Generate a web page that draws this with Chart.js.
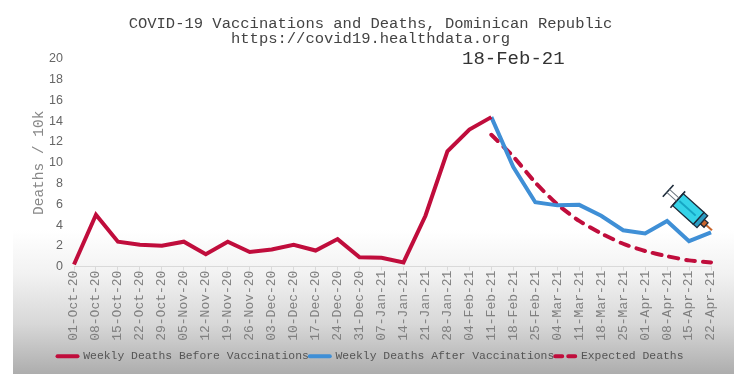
<!DOCTYPE html>
<html>
<head>
<meta charset="utf-8">
<script src="https://cdn.jsdelivr.net/npm/chart.js@4"></script>
<style>
  html, body { margin: 0; padding: 0; background: #fff; }
  #wrap { position: relative; width: 740px; height: 383px; overflow: hidden; }
  #shade {
    position: absolute; left: 13px; top: 230px; width: 721px; height: 144px;
    background: linear-gradient(to bottom, #fff 0%, #f2f2f2 30%, #d8d8d8 65%, #adadad 100%);
  }
  canvas { position: absolute; left: 0; top: 0; }
</style>
</head>
<body>
<div id="wrap">
  <div id="shade"></div>
  <canvas id="chart" width="740" height="383"></canvas>
</div>
<script>
const weeks = [
  "01-Oct-20", "08-Oct-20", "15-Oct-20", "22-Oct-20", "29-Oct-20",
  "05-Nov-20", "12-Nov-20", "19-Nov-20", "26-Nov-20",
  "03-Dec-20", "10-Dec-20", "17-Dec-20", "24-Dec-20", "31-Dec-20",
  "07-Jan-21", "14-Jan-21", "21-Jan-21", "28-Jan-21",
  "04-Feb-21", "11-Feb-21", "18-Feb-21", "25-Feb-21",
  "04-Mar-21", "11-Mar-21", "18-Mar-21", "25-Mar-21",
  "01-Apr-21", "08-Apr-21", "15-Apr-21", "22-Apr-21",
];
const N = null;
const deathsBefore = [
  0.2, 5.0, 2.4, 2.1, 2.0, 2.4, 1.2, 2.4, 1.4, 1.65,
  2.1, 1.55, 2.65, 0.9, 0.85, 0.4, 4.9, 11.1, 13.2, 14.4,
  N, N, N, N, N, N, N, N, N, N,
];
const deathsAfter = [
  N, N, N, N, N, N, N, N, N, N,
  N, N, N, N, N, N, N, N, N, 14.4,
  9.6, 6.2, 5.9, 5.95, 4.9, 3.5, 3.2, 4.4, 2.45, 3.3,
];
const deathsExpected = [
  N, N, N, N, N, N, N, N, N, N,
  N, N, N, N, N, N, N, N, N, 12.7,
  10.6, 8.1, 6.0, 4.4, 3.2, 2.2, 1.5, 1.0, 0.6, 0.4,
];
const vaccinationDate = "18-Feb-21";

const mono = "'Liberation Mono', monospace";

// date label over the plot and the syringe at the end of the line
const extras = {
  id: "extras",
  afterDatasetsDraw(chart) {
    const { ctx, scales } = chart;
    ctx.save();
    ctx.fillStyle = "#333";
    ctx.font = "19px " + mono;
    ctx.textAlign = "center";
    ctx.textBaseline = "middle";
    ctx.fillText(vaccinationDate, scales.x.getPixelForValue(weeks.indexOf(vaccinationDate)), scales.y.getPixelForValue(20));
    ctx.restore();

    ctx.save();
    ctx.translate(scales.x.getPixelForValue(weeks.length - 1) + 1, scales.y.getPixelForValue(3.3) - 2);
    ctx.rotate((42 * Math.PI) / 180);
    ctx.lineWidth = 1.3;
    ctx.strokeStyle = "#1d2b3a";
    // needle and hub
    ctx.fillStyle = "#c8642c";
    ctx.fillRect(-8, -1, 8, 2);
    ctx.fillRect(-13, -3, 5, 6);
    ctx.strokeRect(-13, -3, 5, 6);
    ctx.fillStyle = "#2b9cc4";
    ctx.fillRect(-18, -8, 5, 16);
    ctx.strokeRect(-18, -8, 5, 16);
    // barrel
    ctx.fillStyle = "#35d3e8";
    ctx.fillRect(-46, -8, 28, 16);
    ctx.strokeRect(-46, -8, 28, 16);
    ctx.fillStyle = "#16a5c4";
    ctx.fillRect(-44, -1, 22, 2);
    // flange, rod, thumb rest
    ctx.lineWidth = 1.6;
    ctx.beginPath();
    ctx.moveTo(-46, -11); ctx.lineTo(-46, 11);
    ctx.moveTo(-59, -8); ctx.lineTo(-59, 8);
    ctx.stroke();
    ctx.lineWidth = 1;
    ctx.strokeStyle = "#6d7780";
    ctx.beginPath();
    ctx.moveTo(-59, -2); ctx.lineTo(-46, -2);
    ctx.moveTo(-59, 2); ctx.lineTo(-46, 2);
    ctx.stroke();
    ctx.restore();
  },
};

new Chart(document.getElementById("chart"), {
  type: "line",
  data: {
    labels: weeks,
    datasets: [
      {
        label: "Weekly Deaths Before Vaccinations",
        data: deathsBefore,
        borderColor: "#c00d3c",
        backgroundColor: "#c00d3c",
        borderWidth: 4,
        pointRadius: 0,
        tension: 0,
      },
      {
        label: "Weekly Deaths After Vaccinations",
        data: deathsAfter,
        borderColor: "#3f8fd6",
        backgroundColor: "#3f8fd6",
        borderWidth: 4,
        pointRadius: 0,
        tension: 0,
      },
      {
        label: "Expected Deaths",
        data: deathsExpected,
        borderColor: "#c00d3c",
        backgroundColor: "#c00d3c",
        borderWidth: 4,
        borderDash: [9, 8],
        borderCapStyle: "round",
        pointRadius: 0,
        tension: 0.2,
      },
    ],
  },
  options: {
    responsive: false,
    animation: false,
    layout: { padding: { left: 30, right: 29, top: 16, bottom: 11 } },
    plugins: {
      title: {
        display: true,
        text: ["COVID-19 Vaccinations and Deaths, Dominican Republic", "https://covid19.healthdata.org"],
        color: "#444",
        font: { family: mono, size: 15.5, weight: "normal", lineHeight: 1 },
        padding: { top: 0, bottom: 12 },
      },
      legend: {
        position: "bottom",
        labels: {
          usePointStyle: true,
          pointStyle: "line",
          pointStyleWidth: 20,
          color: "#555",
          font: { family: mono, size: 11.4 },
          padding: 1,
          // point style items drop the dataset dash, put it back
          generateLabels(chart) {
            const items = Chart.defaults.plugins.legend.labels.generateLabels(chart);
            items.forEach((item) => {
              const ds = chart.data.datasets[item.datasetIndex];
              item.lineDash = ds.borderDash ? [7, 6] : [];
              item.lineWidth = 4;
              item.strokeStyle = ds.borderColor;
              item.lineCap = "round";
            });
            return items;
          },
        },
      },
      tooltip: { enabled: false },
    },
    scales: {
      x: {
        offset: false,
        grid: { drawOnChartArea: false, tickColor: "#d9d9d9", tickLength: 4 },
        border: { color: "#d9d9d9" },
        ticks: {
          color: "#808080",
          font: { family: mono, size: 13 },
          maxRotation: 90,
          minRotation: 90,
          autoSkip: false,
          padding: 0,
        },
        afterFit(axis) {
          axis.height = 83;
        },
      },
      y: {
        min: 0,
        max: 20,
        grid: { display: false, drawTicks: false },
        border: { display: false },
        ticks: {
          stepSize: 2,
          color: "#666",
          font: { family: "'Liberation Sans', sans-serif", size: 12.5 },
          padding: 11,
        },
        title: {
          display: true,
          text: "Deaths / 10k",
          color: "#888",
          font: { family: mono, size: 14.5 },
          padding: { top: 0, bottom: 0 },
        },
        afterFit(axis) {
          axis.width = 44;
        },
      },
    },
  },
  plugins: [extras],
});
</script>
</body>
</html>
